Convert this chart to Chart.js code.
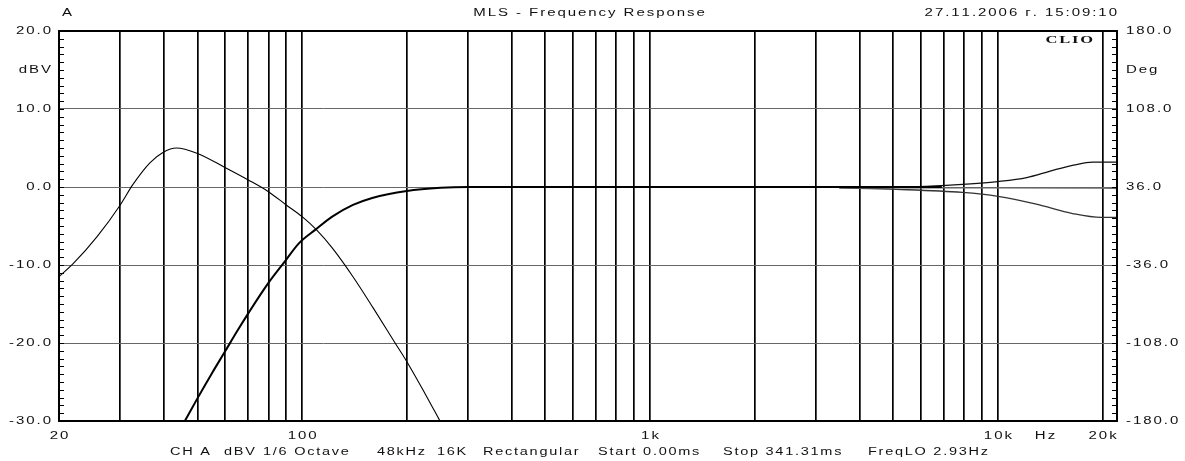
<!DOCTYPE html>
<html>
<head>
<meta charset="utf-8">
<script src="https://cdn.jsdelivr.net/npm/chart.js@4.4.1/dist/chart.umd.min.js"></script>
<style>
  html, body { margin: 0; padding: 0; background: #fff; }
  #wrap { width: 1185px; height: 461px; position: relative; }
</style>
</head>
<body>
<div id="wrap"><canvas id="c"></canvas></div>
<script>
// ---------- data ----------
const lowFreq = [20, 22, 25.7, 30, 32.6, 36.5, 40, 43.5, 50, 60, 70, 80, 90, 100, 110, 122, 140, 160, 185, 200, 225, 249];
const lowDb   = [-11.5, -9.8, -6.4, -2.3, 0.3, 3.1, 4.5, 5.0, 4.3, 2.5, 0.9, -0.6, -2.3, -3.8, -5.5, -7.8, -11.5, -15.5, -20.0, -22.4, -26.4, -30.0];

const highFreq = [46, 50, 55, 60, 65, 70, 80, 89, 98, 109, 122, 140, 159, 200, 250, 300, 400, 1000, 3500, 6900];
const highDb   = [-30.0, -27.1, -23.9, -21.1, -18.5, -16.2, -12.3, -9.6, -7.2, -5.5, -3.8, -2.3, -1.4, -0.5, -0.1, 0, 0, 0, 0, 0];

const upperFreq = [4000, 5900, 7700, 10000, 12100, 14300, 16500, 18700, 22000];
const upperDb   = [0, 0.05, 0.3, 0.7, 1.2, 2.1, 2.8, 3.2, 3.2];

const lowerFreq = [3500, 5100, 7900, 10000, 12900, 16400, 19800, 22000];
const lowerDb   = [-0.1, -0.3, -0.7, -1.2, -2.2, -3.4, -3.9, -3.9];

const midFreq = [3500, 10000, 20000, 22000];
const midDb   = [-0.1, -0.1, -0.15, -0.2];

const gridFreqs = [20, 30, 40, 50, 60, 70, 80, 90, 100, 200, 300, 400, 500, 600, 700, 800, 900,
                   1000, 2000, 3000, 4000, 5000, 6000, 7000, 8000, 9000, 10000, 20000];
const xTickValues = [20, 100, 1000, 10000, 20000];
const xTickLabels = ['20', '100', '1k', '10k', '20k'];
const yTickValues = [20, 10, 0, -10, -20, -30];
const yTickLabels = ['20.0', '10.0', '0.0', '-10.0', '-20.0', '-30.0'];
const y1TickValues = [180, 108, 36, -36, -108, -180];
const y1TickLabels = ['180.0', '108.0', '36.0', '-36.0', '-108.0', '-180.0'];
const infoItems = ['CH A', 'dBV', '1/6 Octave', '48kHz', '16K', 'Rectangular', 'Start 0.00ms', 'Stop 341.31ms', 'FreqLO 2.93Hz'];
const infoX = [170, 224, 263, 377, 437, 483, 598, 723, 868];

const pts = (f, v) => f.map((x, i) => ({ x, y: v[i] }));

// ---------- text helper (stretched, letter-spaced like the original) ----------
function txt(ctx, s, x, y, align, font, sp, sx) {
  sx = sx || 1.5;
  ctx.save();
  ctx.font = font;
  ctx.fillStyle = '#111';
  const chars = [...s];
  const ws = chars.map(c => ctx.measureText(c).width);
  const w = (ws.reduce((a, b) => a + b, 0) + sp * (chars.length - 1)) * sx;
  const x0 = align === 'right' ? x - w : align === 'center' ? x - w / 2 : x;
  ctx.translate(x0, y);
  ctx.scale(sx, 1);
  ctx.textBaseline = 'middle';
  ctx.textAlign = 'left';
  let cx = 0;
  chars.forEach((c, i) => { ctx.fillText(c, cx, 0); cx += ws[i] + sp; });
  ctx.restore();
}

const F = '10px "Liberation Sans", Arial, sans-serif';

const decor = {
  id: 'decor',
  afterDraw(chart) {
    const ctx = chart.ctx;
    const a = chart.chartArea;
    const sx = chart.scales.x, sy = chart.scales.y, sy1 = chart.scales.y1;
    // minor ticks
    ctx.save();
    ctx.strokeStyle = '#000';
    ctx.lineWidth = 1;
    ctx.beginPath();
    for (let v = -30; v <= 20; v += 1) {
      const p = Math.round(sy.getPixelForValue(v)) + 0.5;
      ctx.moveTo(a.left, p); ctx.lineTo(a.left + 5, p);
    }
    for (let v = -180; v <= 180; v += 7.2) {
      const p = Math.round(sy1.getPixelForValue(v)) + 0.5;
      ctx.moveTo(a.right - 5, p); ctx.lineTo(a.right, p);
    }
    ctx.stroke();
    // frame
    ctx.lineWidth = 2;
    ctx.strokeRect(a.left, a.top, a.right - a.left, a.bottom - a.top);
    ctx.restore();

    // left labels
    yTickValues.forEach((v, i) => txt(ctx, yTickLabels[i], 51, sy.getPixelForValue(v), 'right', F, 1.3));
    txt(ctx, 'dBV', 51, sy.getPixelForValue(15), 'right', F, 1.3);
    // right labels
    y1TickValues.forEach((v, i) => txt(ctx, y1TickLabels[i], 1126, sy1.getPixelForValue(v), 'left', F, 1.3));
    txt(ctx, 'Deg', 1126, sy1.getPixelForValue(144), 'left', F, 1.3);
    // x labels
    xTickValues.forEach((v, i) => txt(ctx, xTickLabels[i], sx.getPixelForValue(v), 436, 'center', F, 1.3));
    txt(ctx, 'Hz', 1045, 436, 'center', F, 1.3);
    // header
    txt(ctx, 'A', 67, 13, 'center', F, 1.3);
    txt(ctx, 'MLS - Frequency Response', 589, 13, 'center', F, 1.3);
    txt(ctx, '27.11.2006 г. 15:09:10', 1117, 13, 'right', F, 1.3);
    txt(ctx, 'CLIO', 1093, 40, 'right', 'bold 11px "Liberation Serif", serif', 1.2);
    // info line
    infoItems.forEach((s, i) => txt(ctx, s, infoX[i], 452, 'left', F, 1.2, 1.45));
  }
};

const fit0w = s => { s.width = 0; };
const fit0h = s => { s.height = 0; };

new Chart(document.getElementById('c'), {
  type: 'line',
  data: {
    datasets: [
      { data: pts(lowFreq, lowDb), borderColor: '#000', borderWidth: 1.1, pointRadius: 0, cubicInterpolationMode: 'monotone' },
      { data: pts(highFreq, highDb), borderColor: '#000', borderWidth: 2, pointRadius: 0, cubicInterpolationMode: 'monotone' },
      { data: pts(midFreq, midDb), borderColor: '#666', borderWidth: 1.2, pointRadius: 0, cubicInterpolationMode: 'monotone' },
      { data: pts(upperFreq, upperDb), borderColor: '#111', borderWidth: 1.3, pointRadius: 0, cubicInterpolationMode: 'monotone' },
      { data: pts(lowerFreq, lowerDb), borderColor: '#333', borderWidth: 1.3, pointRadius: 0, cubicInterpolationMode: 'monotone' }
    ]
  },
  options: {
    responsive: true,
    maintainAspectRatio: false,
    devicePixelRatio: 1,
    animation: false,
    events: [],
    layout: { padding: { left: 59, right: 68, top: 31, bottom: 40 } },
    plugins: { legend: { display: false }, tooltip: { enabled: false }, title: { display: false } },
    scales: {
      x: {
        type: 'logarithmic', min: 20, max: 22000,
        afterBuildTicks: s => { s.ticks = gridFreqs.map(v => ({ value: v })); },
        afterFit: fit0h,
        ticks: { display: false, autoSkip: false },
        grid: { color: '#000', lineWidth: 1.7, drawTicks: false },
        border: { display: false }
      },
      y: {
        min: -30, max: 20,
        afterBuildTicks: s => { s.ticks = yTickValues.map(v => ({ value: v })); },
        afterFit: fit0w,
        ticks: { display: false },
        grid: { color: '#666', lineWidth: 1, drawTicks: false },
        border: { display: false }
      },
      y1: {
        position: 'right', min: -180, max: 180,
        afterFit: fit0w,
        ticks: { display: false },
        grid: { display: false, drawTicks: false },
        border: { display: false }
      }
    }
  },
  plugins: [decor]
});
</script>
</body>
</html>
